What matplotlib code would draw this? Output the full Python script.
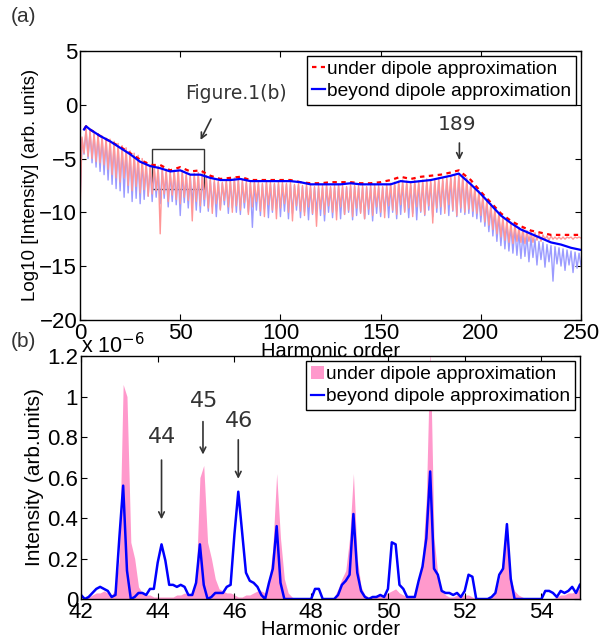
import matplotlib as mpl
mpl.use('Agg')
import matplotlib.pyplot as plt
from matplotlib.patches import Rectangle, Patch
from matplotlib.lines import Line2D
import numpy as np

plt.rcParams['font.family'] = ['Liberation Sans', 'DejaVu Sans']

# ---- panel (a): log10 spectra, harmonics 0..250 ----
# smooth envelopes (dark lines)
env_h = [2, 3, 5, 10, 15, 20, 25, 30, 35, 40, 45, 50, 55, 60, 65, 70, 75, 80, 85, 90,
         95, 100, 105, 110, 115, 120, 125, 130, 135, 140, 145, 150, 155, 160, 165, 170,
         175, 180, 185, 189, 195, 200, 205, 210, 215, 220, 225, 230, 235, 240, 245, 250]
env_under = [-2.3, -2.0, -2.3, -2.9, -3.4, -3.9, -4.5, -5.1, -5.6, -5.6, -6.1, -5.8, -6.2,
             -6.1, -6.6, -6.9, -6.8, -6.7, -7.0, -7.0, -7.0, -7.0, -7.0, -7.2, -7.3, -7.3,
             -7.2, -7.2, -7.2, -7.3, -7.3, -7.2, -7.0, -6.7, -6.9, -6.7, -6.6, -6.5, -6.3,
             -6.1, -7.0, -8.1, -9.1, -10.1, -10.8, -11.3, -11.7, -11.9, -12.1, -12.1, -12.1, -12.1]
env_beyond = [-2.3, -2.0, -2.3, -2.9, -3.4, -4.0, -4.6, -5.3, -5.7, -5.9, -6.2, -6.1, -6.5,
              -6.5, -6.8, -7.0, -7.0, -6.9, -7.1, -7.1, -7.1, -7.1, -7.1, -7.2, -7.4, -7.4,
              -7.4, -7.4, -7.3, -7.4, -7.4, -7.4, -7.4, -7.1, -7.2, -7.1, -7.0, -6.8, -6.6,
              -6.4, -7.4, -8.3, -9.3, -10.3, -11.0, -11.6, -12.0, -12.4, -12.8, -13.0, -13.3, -13.5]

# raw spectra: peaks at odd harmonics, dips at even harmonics
under_peak = [-3.0, -2.2, -2.4, -2.6, -2.7, -2.9, -3.1, -3.2, -3.4, -3.6,
              -3.8, -4.0, -4.3, -4.5, -4.7, -5.0, -5.3, -5.6, -5.7, -5.7,
              -5.8, -6.0, -6.2, -6.1, -6.0, -6.1, -6.4, -6.5, -6.4, -6.3,
              -6.4, -6.6, -6.8, -7.0, -7.1, -7.2, -7.0, -6.9, -6.8, -6.9,
              -7.0, -7.1, -7.2, -7.1, -7.2, -7.3, -7.1, -7.2, -7.3, -7.2,
              -7.2, -7.3, -7.2, -7.4, -7.3, -7.5, -7.4, -7.5, -7.6, -7.5,
              -7.5, -7.4, -7.6, -7.5, -7.4, -7.5, -7.6, -7.4, -7.5, -7.5,
              -7.5, -7.6, -7.5, -7.4, -7.5, -7.6, -7.4, -7.3, -7.2, -7.1,
              -7.0, -7.1, -7.2, -7.0, -7.1, -7.0, -6.9, -7.0, -6.9, -6.8,
              -6.8, -6.7, -6.6, -6.5, -6.4, -6.5, -6.8, -7.2, -7.6, -8.0,
              -8.4, -8.8, -9.2, -9.6, -10.0, -10.4, -10.7, -10.9, -11.1, -11.4,
              -11.5, -11.7, -11.8, -11.9, -12.0, -12.1, -12.2, -12.2, -12.3, -12.3,
              -12.3, -12.3, -12.3, -12.3, -12.3]
under_dip = [-10.0, -4.5, -4.8, -5.0, -5.3, -5.4, -5.6, -6.0, -6.5, -6.8,
             -7.2, -6.8, -7.5, -8.0, -7.6, -8.2, -7.9, -8.5, -8.3, -8.0,
             -12.0, -8.3, -9.0, -8.4, -8.8, -9.2, -8.6, -8.9, -10.8, -9.0,
             -9.4, -8.8, -9.6, -10.1, -9.2, -9.8, -8.9, -9.5, -10.0, -9.4,
             -9.8, -9.1, -10.2, -9.5, -9.0, -9.9, -10.4, -9.3, -9.8, -10.6,
             -9.6, -9.2, -10.0, -10.8, -9.4, -9.9, -10.3, -9.5, -10.1, -11.3,
             -9.7, -10.2, -9.4, -10.0, -10.7, -9.5, -10.2, -9.8, -10.4, -9.6,
             -10.1, -10.6, -9.7, -10.3, -9.5, -10.0, -10.5, -9.4, -9.8, -10.2,
             -9.3, -10.0, -9.6, -10.4, -9.5, -9.9, -10.2, -9.4, -11.0, -9.6,
             -9.5, -10.1, -9.3, -9.8, -10.3, -9.6, -10.0, -9.7, -9.9, -10.1,
             -10.3, -10.9, -11.2, -11.6, -12.0, -12.3, -12.6, -12.8, -12.9, -12.7,
             -12.8, -12.9, -12.7, -12.8, -12.6, -12.7, -12.5, -12.6, -12.5, -12.5,
             -12.5, -12.5, -12.4, -12.5, -12.4, -12.4]
beyond_peak = [-3.2, -2.3, -2.5, -2.7, -2.8, -3.0, -3.2, -3.4, -3.6, -3.8,
               -4.0, -4.2, -4.5, -4.7, -5.0, -5.3, -5.6, -5.8, -5.9, -6.0,
               -6.1, -6.3, -6.4, -6.3, -6.3, -6.4, -6.6, -6.7, -6.7, -6.6,
               -6.7, -6.9, -7.0, -7.2, -7.2, -7.3, -7.2, -7.1, -7.0, -7.1,
               -7.2, -7.3, -7.3, -7.3, -7.4, -7.4, -7.3, -7.4, -7.4, -7.4,
               -7.4, -7.4, -7.4, -7.5, -7.5, -7.6, -7.6, -7.7, -7.7, -7.7,
               -7.7, -7.6, -7.7, -7.7, -7.6, -7.7, -7.7, -7.6, -7.6, -7.7,
               -7.7, -7.7, -7.6, -7.7, -7.7, -7.7, -7.7, -7.6, -7.5, -7.4,
               -7.4, -7.4, -7.5, -7.4, -7.4, -7.3, -7.3, -7.3, -7.2, -7.1,
               -7.1, -7.0, -6.9, -6.8, -6.7, -6.8, -7.1, -7.5, -7.9, -8.3,
               -8.7, -9.1, -9.5, -9.9, -10.3, -10.7, -11.0, -11.3, -11.5, -11.8,
               -12.0, -12.2, -12.3, -12.5, -12.7, -12.8, -13.0, -13.1, -13.2, -13.3,
               -13.4, -13.5, -13.6, -13.7, -13.8]
beyond_dip = [-9.0, -4.6, -5.0, -5.4, -5.8, -6.2, -6.5, -7.0, -7.4, -7.8,
              -8.0, -8.6, -8.2, -9.0, -8.7, -9.2, -8.8, -8.5, -9.0, -8.6,
              -9.2, -8.7, -9.5, -9.0, -9.3, -10.3, -9.1, -9.6, -9.2, -9.8,
              -10.0, -9.4, -9.9, -9.5, -10.4, -9.7, -9.3, -10.1, -9.6, -10.0,
              -10.2, -9.6, -10.0, -11.4, -9.8, -10.3, -9.7, -10.5, -10.0, -9.7,
              -10.4, -9.9, -10.6, -10.1, -9.8, -10.5, -10.0, -10.7, -10.2, -9.9,
              -10.3, -10.8, -10.0, -10.5, -9.9, -10.6, -10.2, -10.0, -10.7, -10.3,
              -10.0, -10.6, -10.2, -10.8, -10.1, -10.4, -9.9, -10.5, -10.0, -10.6,
              -10.2, -9.9, -10.5, -10.1, -10.7, -10.0, -10.3, -9.8, -10.4, -10.0,
              -10.2, -9.7, -10.3, -9.9, -10.4, -10.0, -10.2, -10.1, -10.4, -10.6,
              -10.9, -11.3, -11.8, -12.2, -12.7, -13.1, -13.4, -13.6, -13.8, -14.0,
              -14.3, -14.1, -14.6, -14.2, -14.9, -14.4, -15.1, -14.6, -16.4, -14.8,
              -15.0, -15.4, -14.9, -15.6, -15.2, -15.0]

# ---- panel (b): linear spectra, harmonics 42..55 (units of 1e-6) ----
zoom_h = np.arange(420, 551) / 10.0
zoom_under = [0.00, 0.00, 0.01, 0.02, 0.03, 0.03, 0.04, 0.03, 0.02, 0.05,
              0.20, 1.06, 1.00, 0.28, 0.20, 0.06, 0.03, 0.02, 0.02, 0.01,
              0.01, 0.01, 0.01, 0.01, 0.01, 0.02, 0.02, 0.03, 0.02, 0.03,
              0.08, 0.60, 0.66, 0.28, 0.20, 0.10, 0.05, 0.04, 0.03, 0.03,
              0.02, 0.01, 0.01, 0.02, 0.02, 0.03, 0.04, 0.04, 0.03, 0.08,
              0.25, 0.62, 0.30, 0.10, 0.03, 0.01, 0.00, 0.00, 0.00, 0.00,
              0.00, 0.00, 0.00, 0.00, 0.00, 0.00, 0.01, 0.05, 0.10, 0.14,
              0.30, 0.62, 0.20, 0.06, 0.02, 0.01, 0.01, 0.02, 0.02, 0.02,
              0.03, 0.04, 0.05, 0.03, 0.02, 0.01, 0.01, 0.02, 0.08, 0.20,
              0.50, 1.25, 0.30, 0.12, 0.04, 0.02, 0.01, 0.01, 0.02, 0.02,
              0.02, 0.02, 0.01, 0.00, 0.00, 0.00, 0.00, 0.01, 0.03, 0.10,
              0.20, 0.36, 0.10, 0.04, 0.02, 0.01, 0.00, 0.00, 0.00, 0.00,
              0.00, 0.00, 0.00, 0.00, 0.01, 0.02, 0.02, 0.03, 0.03, 0.04,
              0.05]
zoom_beyond = [0.02, 0.00, 0.01, 0.03, 0.05, 0.06, 0.05, 0.04, 0.01, 0.02,
               0.30, 0.56, 0.14, 0.00, 0.01, 0.03, 0.03, 0.02, 0.05, 0.05,
               0.18, 0.27, 0.19, 0.07, 0.07, 0.06, 0.07, 0.06, 0.02, 0.02,
               0.08, 0.27, 0.07, 0.00, 0.01, 0.03, 0.03, 0.03, 0.06, 0.07,
               0.32, 0.53, 0.33, 0.13, 0.09, 0.08, 0.06, 0.02, 0.00, 0.08,
               0.15, 0.36, 0.08, 0.00, 0.00, 0.00, 0.00, 0.00, 0.00, 0.00,
               0.00, 0.05, 0.05, 0.00, 0.00, 0.00, 0.00, 0.02, 0.07, 0.09,
               0.12, 0.42, 0.13, 0.04, 0.01, 0.00, 0.01, 0.01, 0.02, 0.01,
               0.05, 0.28, 0.27, 0.07, 0.05, 0.01, 0.01, 0.01, 0.09, 0.16,
               0.30, 0.63, 0.15, 0.12, 0.04, 0.03, 0.03, 0.02, 0.03, 0.01,
               0.04, 0.12, 0.11, 0.00, 0.00, 0.00, 0.00, 0.01, 0.03, 0.12,
               0.15, 0.37, 0.10, 0.00, 0.00, 0.00, 0.00, 0.00, 0.00, 0.00,
               0.00, 0.04, 0.04, 0.03, 0.01, 0.04, 0.03, 0.04, 0.06, 0.03,
               0.07]

# interleave peaks/dips into one spectrum per case
harm = np.arange(0, 251)
under_raw = np.empty(251)
under_raw[0::2] = under_dip
under_raw[1::2] = under_peak
beyond_raw = np.empty(251)
beyond_raw[0::2] = beyond_dip
beyond_raw[1::2] = beyond_peak

fig = plt.figure(figsize=(6.04, 6.41), dpi=100)
ax1 = fig.add_axes([0.1325, 0.501, 0.8295, 0.4195])
ax2 = fig.add_axes([0.134, 0.0655, 0.826, 0.379])

annot_col = '#333333'
leg_kw = dict(loc='upper right', fontsize=13.8, handlelength=0.7, handletextpad=0.1,
              borderpad=0.25, labelspacing=0.25, borderaxespad=0.25, fancybox=False,
              edgecolor='black', framealpha=1)

# panel a
ax1.plot(harm, beyond_raw, color='#9b9bff', lw=1.0)
ax1.plot(harm, under_raw, color='#ff9696', lw=1.0)
ax1.plot(env_h, env_under, color='red', lw=1.6, ls=(0, (2, 2)))
ax1.plot(env_h, env_beyond, color='blue', lw=1.6)
ax1.set_xlim(0, 250)
ax1.set_ylim(-20, 5)
ax1.set_xticks([0, 50, 100, 150, 200, 250])
ax1.set_yticks([-20, -15, -10, -5, 0, 5])
ax1.set_xlabel('Harmonic order', fontsize=14.5, labelpad=-1)
ax1.set_ylabel('Log10 [Intensity] (arb. units)', fontsize=13.5, labelpad=0)
ax1.add_patch(Rectangle((36, -7.8), 26, 3.7, fill=False, ec='#333333', lw=1.0))
ax1.annotate('', xy=(59.5, -3.5), xytext=(66, -1.1),
             arrowprops=dict(arrowstyle='->', color=annot_col, lw=1.2))
ax1.text(78, 1.05, 'Figure.1(b)', fontsize=13.5, color=annot_col, ha='center', va='center',
         family='DejaVu Sans')
ax1.annotate('', xy=(189.3, -5.4), xytext=(189.3, -3.3),
             arrowprops=dict(arrowstyle='->', color=annot_col, lw=1.2))
ax1.text(188.3, -1.85, '189', fontsize=14.5, color=annot_col, ha='center', va='center',
         family='DejaVu Sans')
h1 = [Line2D([], [], color='red', lw=1.6, ls=(0, (2, 2))),
      Line2D([], [], color='blue', lw=1.6)]
leg1 = ax1.legend(h1, ['under dipole approximation', 'beyond dipole approximation'], **leg_kw)
leg1.get_frame().set_linewidth(1.0)

# panel b
ax2.fill_between(zoom_h, 0, zoom_under, color='#ff99cc', lw=0)
ax2.plot(zoom_h, zoom_beyond, color='blue', lw=1.8)
ax2.set_xlim(42, 55)
ax2.set_ylim(0, 1.2)
ax2.set_xticks([42, 44, 46, 48, 50, 52, 54])
ax2.set_yticks([0, 0.2, 0.4, 0.6, 0.8, 1.0, 1.2])
ax2.set_yticklabels(['0', '0.2', '0.4', '0.6', '0.8', '1', '1.2'])
ax2.set_xlabel('Harmonic order', fontsize=14.5, labelpad=-2)
ax2.set_ylabel('Intensity (arb.units)', fontsize=15, labelpad=2)
ax2.text(0.0, 0.99, r'x 10$^{-6}$', transform=ax2.transAxes, fontsize=15.5,
         ha='left', va='bottom')
for hx, y0, y1, lab, ly in [(44.1, 0.70, 0.38, '44', 0.80),
                            (45.18, 0.89, 0.70, '45', 0.98),
                            (46.1, 0.80, 0.58, '46', 0.88)]:
    ax2.annotate('', xy=(hx, y1), xytext=(hx, y0),
                 arrowprops=dict(arrowstyle='->', color=annot_col, lw=1.2))
    ax2.text(hx + 0.02, ly, lab, fontsize=16, color=annot_col, ha='center', va='center',
             family='DejaVu Sans')
h2 = [Patch(facecolor='#ff99cc', edgecolor='none'), Line2D([], [], color='blue', lw=1.6)]
leg2 = ax2.legend(h2, ['under dipole approximation', 'beyond dipole approximation'], **leg_kw)
leg2.get_frame().set_linewidth(1.0)

for ax in (ax1, ax2):
    ax.tick_params(direction='in', top=True, right=True, labelsize=16, length=4,
                   pad=2)
    for s in ax.spines.values():
        s.set_linewidth(1.0)

fig.text(0.018, 0.975, '(a)', fontsize=15, color=annot_col, va='center')
fig.text(0.018, 0.468, '(b)', fontsize=15, color=annot_col, va='center')

fig.savefig('out.png', dpi=100)
